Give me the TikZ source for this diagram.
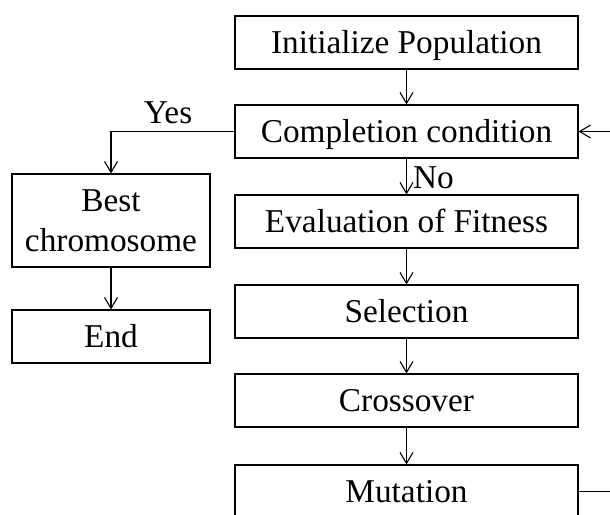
\documentclass[tikz,border=0pt]{standalone}
\usepackage{fontspec}
\setmainfont{Liberation Serif}
\usetikzlibrary{arrows.meta}
\begin{document}
\begin{tikzpicture}[x=1pt,y=-1pt,
  box/.style={draw,line width=1.1pt,minimum height=53pt,inner sep=0pt,align=center,
    font=\fontsize{33.3}{40}\selectfont},
  mainbox/.style={box,minimum width=343pt,text height=22pt,text depth=0pt},
  sidebox/.style={box,minimum width=198pt},
  conn/.style={line width=1.1pt,-{Straight Barb[length=11pt,width=13pt,line width=1.1pt]}},
  lbl/.style={font=\fontsize{33.3}{40}\selectfont,inner sep=0pt}]
\useasboundingbox (0,0) rectangle (610,514);
\clip (0,0) rectangle (610,514);
\node[mainbox] (init) at (406.5,42.5) {Initialize Population};
\node[mainbox] (comp) at (406.5,131.5) {Completion condition};
\node[mainbox] (eval) at (406.5,221.5) {Evaluation of Fitness};
\node[mainbox] (sel) at (406.5,311.5) {Selection};
\node[mainbox] (cross) at (406.5,400.5) {Crossover};
\node[mainbox] (mut) at (406.5,491.5) {Mutation};
\node[sidebox,minimum height=93pt] (best) at (111,220.5) {Best\\chromosome};
\node[sidebox,text height=22pt,text depth=0pt] (end) at (111,336.5) {End};
\draw[conn] (init) -- (comp);
\draw[conn] (comp) -- (eval);
\draw[conn] (eval) -- (sel);
\draw[conn] (sel) -- (cross);
\draw[conn] (cross) -- (mut);
\draw[conn] (best) -- (end);
\draw[conn] (comp.west) -| (best.north);
\draw[conn] (mut.east) -- ++(40,0) |- (comp.east);
\node[lbl,anchor=base] (yes) at (168,123) {Yes};
\node[lbl,anchor=base west] (no) at (413,188) {No};
\end{tikzpicture}
\end{document}
